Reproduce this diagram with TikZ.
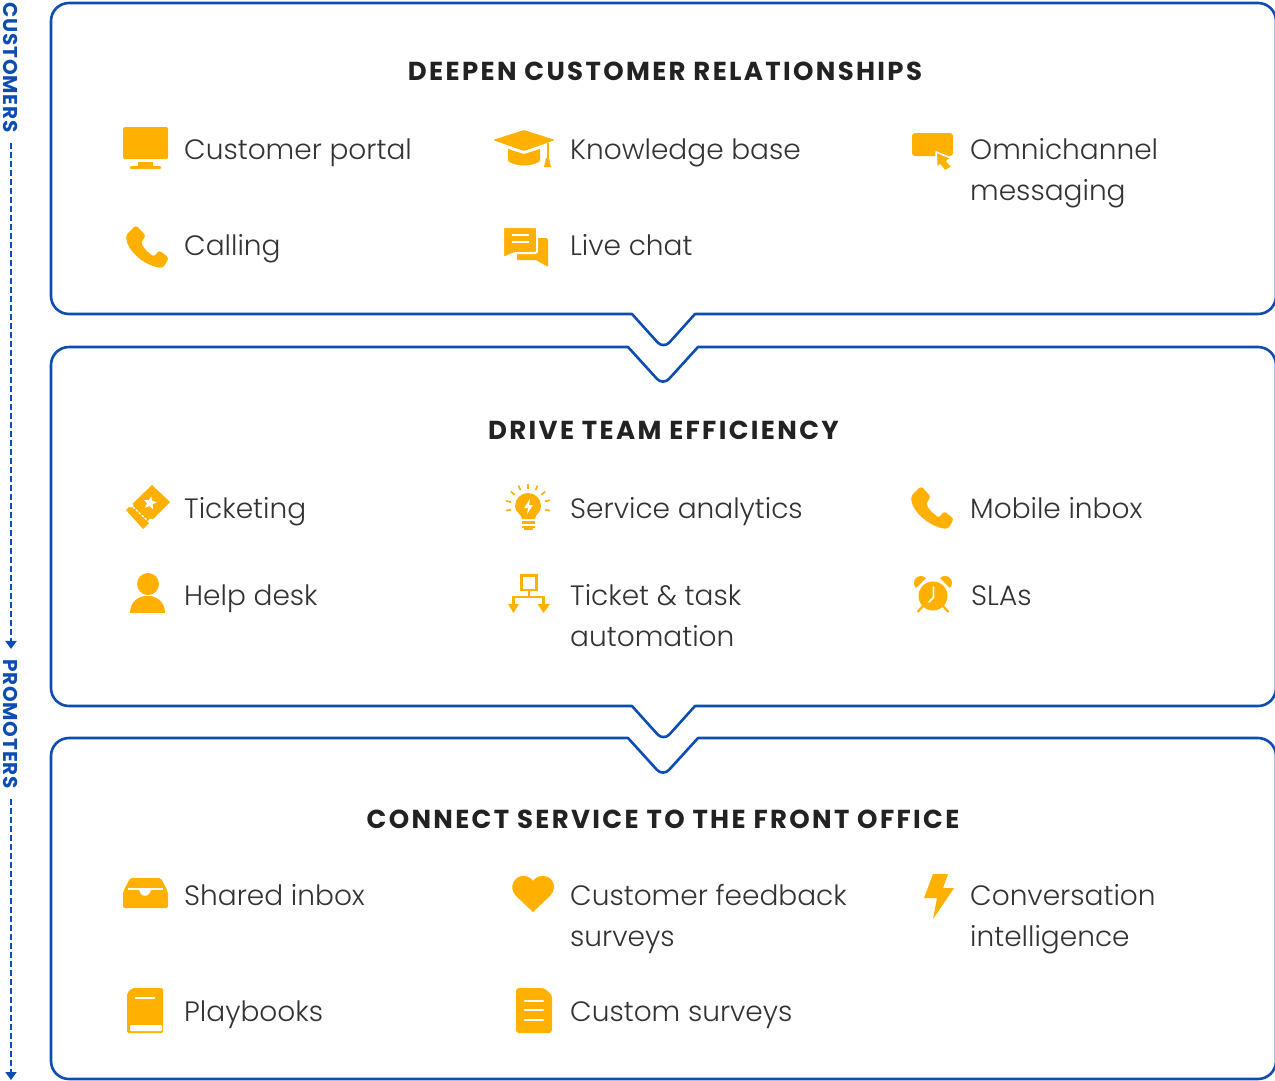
\documentclass[tikz,border=0pt]{standalone}
\usepackage{fontspec}
\setmainfont{Poppins Light}
\newfontfamily\boldfont[LetterSpace=9]{Poppins Bold}
\newfontfamily\sidefont[LetterSpace=4]{Poppins Bold}
\usetikzlibrary{arrows.meta}
\definecolor{panelblue}{HTML}{0B4DB3}
\definecolor{iconyellow}{HTML}{FFB000}
\definecolor{inktext}{HTML}{333333}
\definecolor{inkhead}{HTML}{222222}
\tikzset{
  panelline/.style={draw=panelblue,line width=2.6pt,line join=round},
  headtext/.style={text=inkhead,inner sep=0pt,anchor=base,font=\boldfont\fontsize{26}{30}\selectfont},
  itemtext/.style={text=inktext,inner sep=0pt,anchor=base west,align=left,font=\fontsize{28}{41}\selectfont},
  sidetext/.style={text=panelblue,inner sep=0pt,rotate=-90,font=\sidefont\fontsize{20}{24}\selectfont},
  sidearrow/.style={draw=panelblue,line width=2.4pt,dash pattern=on 6pt off 3pt,-{Triangle[length=8pt,width=11pt]}},
  icon/.style={fill=iconyellow,draw=none},
  gapline/.style={draw=white,line width=2pt},
  pics/phonecall/.style={code={
    \fill[icon,rounded corners=3pt] (9,-1) -- (19,10) -- (14,16) .. controls (17,23) and (22,27) .. (27,31) -- (32,24) -- (42,32) -- (36,42) .. controls (18,40) and (0,25) .. (-1,9) -- cycle;
  }}
}
\begin{document}
\begin{tikzpicture}[x=1pt,y=-1pt]
\useasboundingbox (0,0) rectangle (1275,1080);
% panels
\draw[panelline] (632,314) [rounded corners=18pt] -- (51,314) -- (51,3) -- (1276,3) -- (1276,314) [sharp corners] -- (695,314) [rounded corners=9pt] -- (663.5,349) [sharp corners] -- cycle;
\draw[panelline] (628,347) [rounded corners=18pt] -- (51,347) -- (51,706) [sharp corners] -- (632,706) [rounded corners=9pt] -- (663.5,741) [sharp corners] -- (695,706) [rounded corners=18pt] -- (1276,706) -- (1276,347) [sharp corners] -- (698,347) [rounded corners=9pt] -- (663,385.5) [sharp corners] -- cycle;
\draw[panelline] (628,738) [rounded corners=18pt] -- (51,738) -- (51,1079) -- (1276,1079) -- (1276,738) [sharp corners] -- (698,738) [rounded corners=9pt] -- (663,776.5) [sharp corners] -- cycle;
% side labels
\node[sidetext] (customers) at (11,67.5) {CUSTOMERS};
\node[sidetext] (promoters) at (11,724) {PROMOTERS};
\coordinate (sideend) at (11,1080);
\draw[sidearrow,shorten <=10pt,shorten >=10pt] (customers.east) -- (promoters.west);
\draw[sidearrow,shorten <=10pt] (promoters.east) -- (sideend);
% first panel
\node[headtext] (headcustomer) at (665,80) {DEEPEN CUSTOMER RELATIONSHIPS};
\node[itemtext] (portal) at (184,159) {Customer portal};
\node[itemtext] (knowledge) at (570,159) {Knowledge base};
\node[itemtext] (omni) at (970,200) {Omnichannel\\messaging};
\node[itemtext] (calling) at (184,255) {Calling};
\node[itemtext] (livechat) at (570,255) {Live chat};
% second panel
\node[headtext] (headteam) at (663.5,439) {DRIVE TEAM EFFICIENCY};
\node[itemtext] (ticketing) at (184,518) {Ticketing};
\node[itemtext] (analytics) at (570,518) {Service analytics};
\node[itemtext] (mobile) at (970,518) {Mobile inbox};
\node[itemtext] (helpdesk) at (184,605) {Help desk};
\node[itemtext] (automation) at (570,646) {Ticket \& task\\automation};
\node[itemtext] (slas) at (971,605) {SLAs};
% third panel
\node[headtext] (headfront) at (663,828) {CONNECT SERVICE TO THE FRONT OFFICE};
\node[itemtext] (shared) at (184,905) {Shared inbox};
\node[itemtext] (feedback) at (570,946) {Customer feedback\\surveys};
\node[itemtext] (intelligence) at (970,946) {Conversation\\intelligence};
\node[itemtext] (playbooks) at (184,1021) {Playbooks};
\node[itemtext] (surveys) at (570,1021) {Custom surveys};
% monitor
\fill[icon,rounded corners=1.5pt] (123,127) rectangle (168,159);
\fill[icon] (138,162) rectangle (153,166);
\fill[icon,rounded corners=1pt] (130,166) rectangle (161,169);
% cap
\fill[icon,rounded corners=1pt] (493,140) -- (524,130) -- (555,140) -- (524,151) -- cycle;
\fill[icon] (508,149) -- (524,154) -- (540,149) -- (540,161) .. controls (532,167) and (516,167) .. (508,161) -- cycle;
\fill[icon] (546.5,143) rectangle (548.5,158);
\fill[icon] (546,158) -- (549,158) -- (551,167) -- (544,167) -- cycle;
% phone
\pic at (127,226) {phonecall};
% chat
\fill[icon,rounded corners=1.5pt] (517,238) -- (548,238) -- (548,267) [sharp corners] -- (536,260) -- (517,260) -- cycle;
\filldraw[icon,draw=white,line width=2pt,rounded corners=1.5pt] (503,227) -- (537,227) -- (537,253) -- (515,253) [sharp corners] -- (503,258) -- cycle;
\draw[gapline] (512,235) -- (529,235) (512,241.5) -- (529,241.5);
% omnichannel
\fill[icon,rounded corners=3pt] (912,133) rectangle (953,156);
\filldraw[icon,draw=white,line width=1.5pt,line join=round] (936,152) -- (951,158) -- (947,161) -- (952,167) -- (945,171) -- (940,165) -- (937,168) -- cycle;
% ticket
\fill[icon] (152,485) -- (170,502) -- (143,529) -- (126,510) -- cycle;
\fill[white] (131,505) circle (2.5) (151,521) circle (2.5);
\draw[gapline,dash pattern=on 2.5pt off 1.5pt,line width=1.3pt] (133,507) -- (149,522);
\fill[white] (150,503) +(-80:7) -- +(-44:3) -- +(-8:7) -- +(28:3) -- +(64:7) -- +(100:3) -- +(136:7) -- +(172:3) -- +(208:7) -- +(244:3) -- cycle;
% bulb
\fill[icon] (522,519) .. controls (522,514) and (515,513) .. (515,506) arc (180:360:13) .. controls (541,513) and (535,514) .. (535,519) -- cycle;
\fill[icon] (522,521) rectangle (535,524);
\fill[icon] (522,525.5) rectangle (535,528);
\fill[icon] (524,528) rectangle (533,530);
\fill[white] (530,499) -- (524,508) -- (528,508) -- (527,514) -- (533,505) -- (529,505) -- cycle;
\foreach \rayangle in {-90,-65,-40,-15,12,193,168,220,245}
  \draw[iconyellow,line width=1.6pt] (528,506) ++(\rayangle:17.5) -- ++(\rayangle:5);
% mobile phone
\pic at (912,487) {phonecall};
% person
\fill[icon] (148,584) circle (11);
\fill[icon] (130,613) .. controls (130,590) and (165,590) .. (165,613) -- cycle;
% flow
\draw[iconyellow,line width=2.6pt] (521.5,575.5) rectangle (536.5,590);
\draw[iconyellow,line width=2.6pt] (529,590) -- (529,597) (513.5,605) -- (513.5,597) -- (543.5,597) -- (543.5,605);
\fill[icon] (508,604) -- (519,604) -- (513.5,613) -- cycle;
\fill[icon] (537.5,604) -- (550,604) -- (543.5,613) -- cycle;
% alarm
\fill[icon] (933,596) circle (14.5);
\fill[icon] (916,588) arc (135:315:7) -- cycle;
\fill[icon] (940,578) arc (-135:45:7) -- cycle;
\draw[iconyellow,line width=2.2pt,line cap=round] (923,606) -- (918,611.5) (943,606) -- (948,611.5);
\draw[white,line width=1.6pt,line cap=round,line join=round] (933.5,587) -- (933.5,597.5) -- (929,602);
% inbox
\fill[icon,rounded corners=2pt] (130,878) -- (161,878) -- (168,892) -- (168,908) -- (123,908) -- (123,892) -- cycle;
\draw[white,line width=2pt] (128,889) -- (163,889);
\fill[white] (139,889) .. controls (140,898) and (150,898) .. (151,889) -- cycle;
% heart
\fill[icon] (533,912) -- (516,896) .. controls (507,886) and (516,875) .. (524,876) .. controls (528,876) and (531,878) .. (533,881) .. controls (535,878) and (538,876) .. (542,876) .. controls (551,875) and (559,886) .. (550,896) -- cycle;
% bolt
\fill[icon] (933,874) -- (948,874) -- (943,888) -- (954,888) -- (933,919) -- (937,898) -- (924,898) -- cycle;
% book
\fill[icon,rounded corners=2pt] (163,988) -- (132,988) -- (127,993) -- (127,1033) -- (163,1033) -- cycle;
\fill[white,rounded corners=1pt] (130,1025) rectangle (162,1031);
\draw[white,line width=1.6pt] (135,998) -- (155,998);
% doc
\fill[icon,rounded corners=3pt] (516,988) -- (544,988) -- (552,995) -- (552,1033) -- (516,1033) -- cycle;
\draw[white,line width=2.4pt,line cap=round] (525,1001) -- (543,1001) (525,1010) -- (543,1010) (525,1020) -- (543,1020);
\end{tikzpicture}
\end{document}
